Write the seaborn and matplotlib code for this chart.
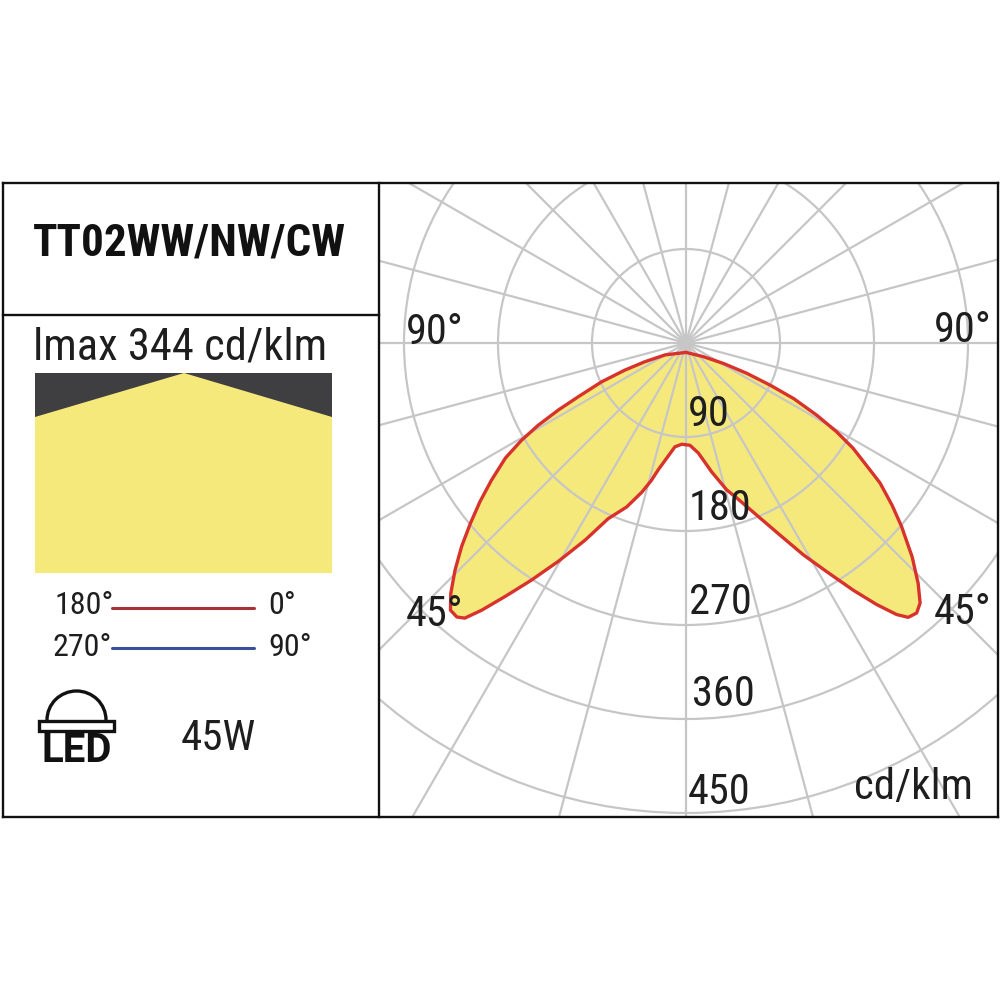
import numpy as np
import matplotlib
matplotlib.use('Agg')
import matplotlib.pyplot as plt
from matplotlib.patches import Rectangle, Polygon, Arc
import seaborn as sns
import logging
logging.getLogger('matplotlib.font_manager').setLevel(logging.ERROR)

# Curva fotometrica C0-C180, angulo desde la vertical (negativo = izquierda)
angulos = [0, 51.6, 61.4, 63.5, 63.4, 62.7, 61.1, 59.5, 57.8, 55.4, 54.2, 51.8, 49.6, 46.6, 44.0, 42.0,
           40.5, 39.0, 37.8, 36.1, 34.1, 31.6, 29.0, 26.1, 22.3, 18.1, 15.5, 11.3, 6.4, 2.2,
           -2.4, -6.1, -12.3, -14.2, -16.5, -19.9, -23.9, -27.1, -30.3, -33.1, -35.5, -37.4, -38.8,
           -39.9, -41.4, -43.2, -45.5, -47.8, -50.1, -52.4, -54.8, -57.5, -59.4, -60.9, -62.3,
           -63.5, -65.3, -66.1, -65.5, -60.3, 0]
intensidad = [9, 21, 41, 65, 90, 116, 143, 167, 189, 214, 229, 251, 271, 298, 320, 335,
              340, 338, 329, 310, 286, 257, 232, 205, 178, 156, 146, 126, 106, 98,
              97, 100, 124, 136, 149, 167, 184, 212, 242, 271, 298, 322, 338,
              342, 341, 329, 310, 290, 269, 249, 228, 205, 183, 162, 138,
              115, 89, 64, 43, 23, 9]

anillos = [90, 180, 270, 360, 450]
etiquetas_r = ['90', '180', '270', '360', '450']
etiquetas_r_y = [415, 509, 603, 695, 793]
etiquetas_r_x = [709, 720, 720, 723, 719]
radios_grados = np.arange(0, 360, 15)

ROJO = '#D8322C'
AMARILLO = '#F6E97C'
GRIS = '#C6C6C6'
TEXTO = '#1E1E1E'
NEGRO = '#111111'

sns.set_style('white')
plt.rcParams['font.family'] = ['Roboto Condensed', 'Liberation Sans Narrow', 'Roboto', 'DejaVu Sans']

fig = plt.figure(figsize=(10, 10), dpi=100, facecolor='white')

# Diagrama polar: centro en (686, 343) px, 94 px cada 90 cd/klm
rmax = 600
R = rmax * 94 / 90 / 1000
ax = fig.add_axes([0.686 - R, 1 - 0.343 - R, 2 * R, 2 * R], projection='polar')
ax.set_theta_zero_location('S')
ax.set_theta_direction(1)
theta = np.radians(angulos)
ax.fill(theta, intensidad, color=AMARILLO, zorder=1, lw=0)
sns.lineplot(x=theta, y=intensidad, sort=False, estimator=None, color=ROJO, linewidth=2.4, zorder=3, ax=ax)
ax.set_rlim(0, rmax)
ax.set_rgrids(anillos, labels=[''] * len(anillos))
ax.set_thetagrids(radios_grados, labels=[''] * len(radios_grados))
ax.set_axisbelow(False)
ax.grid(True, color=GRIS, linewidth=1.6)
ax.set_xlabel('')
ax.set_ylabel('')
ax.patch.set_visible(False)
ax.spines['polar'].set_visible(False)

# Recortar la rejilla al recuadro derecho
recorte = Rectangle((0.38, 0.183), 0.618, 0.634, transform=fig.transFigure)
for linea in ax.get_xgridlines() + ax.get_ygridlines():
    linea.set_clip_path(recorte)

# Capa en pixeles para marco, panel izquierdo y textos
capa = fig.add_axes([0, 0, 1, 1], zorder=2)
capa.set_xlim(0, 1000)
capa.set_ylim(1000, 0)
capa.axis('off')

for xs, ys in [([3, 998], [183, 183]), ([3, 998], [817, 817]), ([3, 3], [183, 817]), ([998, 998], [183, 817]),
               ([379, 379], [183, 817]), ([3, 379], [315, 315])]:
    capa.plot(xs, ys, color=NEGRO, lw=1.7, solid_capstyle='projecting')

capa.add_patch(Rectangle((35, 373), 297, 200, facecolor='#3F3F41', lw=0))
capa.add_patch(Polygon([(35, 417), (184, 373), (332, 417), (332, 573), (35, 573)], facecolor=AMARILLO, lw=0))

capa.plot([112, 254], [608, 608], color='#A8323A', lw=2.2)
capa.plot([112, 254], [648, 648], color='#3A4F9A', lw=2.2)

# Icono LED
capa.add_patch(Arc((76.5, 720), 59, 58, theta1=180, theta2=360, color=NEGRO, lw=2.4))
capa.add_patch(Rectangle((39, 721), 75, 10, facecolor='white', edgecolor=NEGRO, lw=2.4))


def texto(x, y, s, size, ha='center'):
    capa.text(x, y, s, fontsize=size, ha=ha, va='center', color=TEXTO)


capa.text(189, 244, 'TT02WW/NW/CW', fontsize=32.5, ha='center', va='center', fontweight='bold', color=NEGRO)
texto(180, 348, 'lmax 344 cd/klm', 32)
texto(84, 605, '180°', 23)
texto(282, 605, '0°', 23)
texto(82, 647, '270°', 23)
texto(290, 647, '90°', 23)
texto(218, 738, '45W', 31)
capa.text(76.5, 751, 'LED', fontsize=29, ha='center', va='center', fontweight='bold', color=NEGRO, family='Roboto')

for s, x, y in zip(etiquetas_r, etiquetas_r_x, etiquetas_r_y):
    texto(x, y, s, 30.5)
texto(435, 333, '90°', 30.5)
texto(963, 330, '90°', 30.5)
texto(435, 614, '45°', 30.5)
texto(963, 612, '45°', 30.5)
texto(914, 787, 'cd/klm', 31)

fig.savefig('out.png', dpi=100, facecolor='white')
